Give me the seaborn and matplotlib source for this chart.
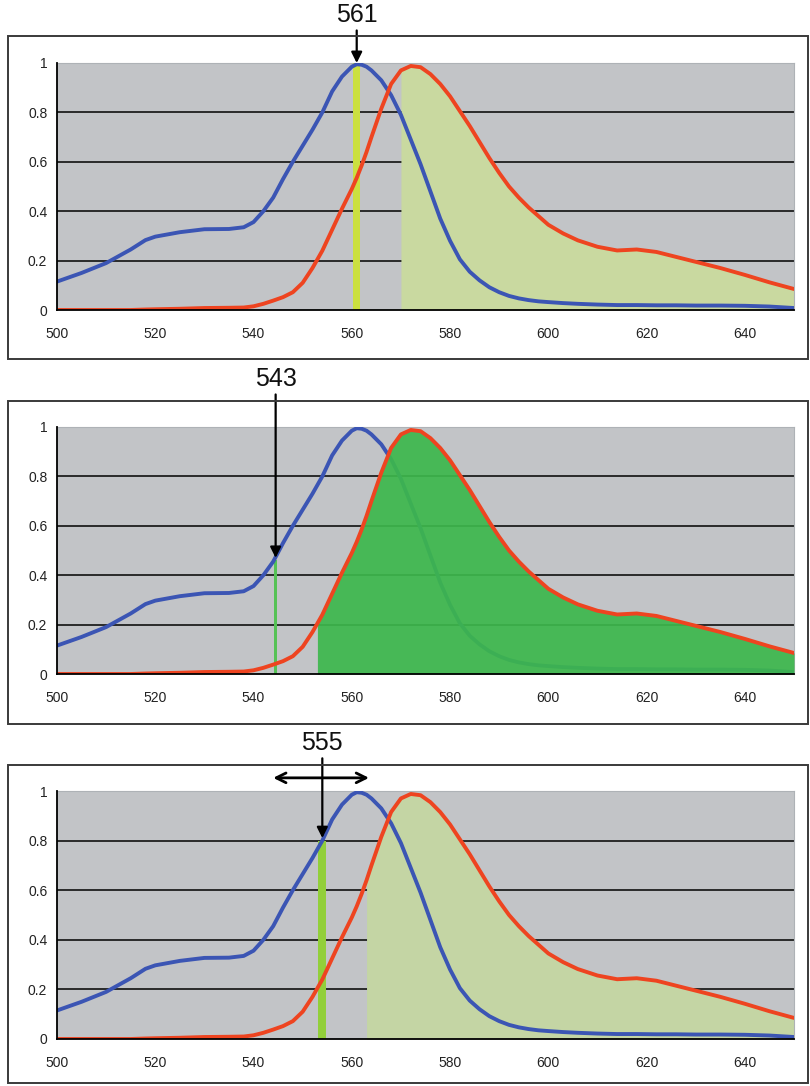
import numpy as np
import matplotlib
matplotlib.use("Agg")
import matplotlib.pyplot as plt
from matplotlib.patches import Rectangle
import seaborn as sns

# spectra (wavelength in nm, normalised)
wavelength = [500, 505, 510, 515, 518, 520, 525, 530, 535, 538, 540, 542, 544, 546, 548,
              550, 552, 553, 554, 556, 558, 560, 561, 562, 563, 564, 566, 568, 570, 572,
              574, 576, 578, 580, 582, 584, 586, 588, 590, 592, 594, 596, 598, 600, 603,
              606, 610, 614, 618, 622, 626, 630, 635, 640, 645, 650]
blue_curve = [0.115, 0.15, 0.19, 0.245, 0.283, 0.297, 0.315, 0.327, 0.328, 0.335, 0.356, 0.40,
              0.455, 0.53, 0.60, 0.665, 0.73, 0.765, 0.80, 0.885, 0.945, 0.985, 0.995, 0.993, 0.985,
              0.97, 0.93, 0.87, 0.79, 0.69, 0.59, 0.48, 0.37, 0.28, 0.205, 0.155, 0.12, 0.092,
              0.072, 0.057, 0.047, 0.04, 0.035, 0.032, 0.028, 0.025, 0.022, 0.02, 0.02, 0.019,
              0.019, 0.018, 0.018, 0.017, 0.014, 0.008]
red_curve = [0.0, 0.0, 0.0, 0.0, 0.002, 0.003, 0.005, 0.008, 0.009, 0.01, 0.015, 0.025, 0.038,
             0.052, 0.072, 0.11, 0.17, 0.205, 0.24, 0.325, 0.41, 0.49, 0.535, 0.585, 0.64, 0.70,
             0.815, 0.915, 0.97, 0.988, 0.983, 0.955, 0.915, 0.865, 0.805, 0.745, 0.68, 0.615,
             0.555, 0.50, 0.455, 0.415, 0.38, 0.345, 0.31, 0.282, 0.256, 0.241, 0.245, 0.235,
             0.215, 0.195, 0.17, 0.142, 0.112, 0.085]

# per panel markers
marker_labels = ["561", "543", "555"]
marker_pos = [561, 544.5, 554]
marker_tip = [1.0, 0.47, 0.81]
bar_height = [1.0, 0.46, 0.80]
bar_width = [1.4, 0.6, 1.6]
bar_colors = ["#cbe03f", "#55c255", "#92cf3a"]
fill_start = [570, 553, 563]
fill_colors = ["#c9d9a0", "#3db84c", "#c4d5a4"]
fill_alpha = [1.0, 0.92, 1.0]
range_arrow = [None, None, (544, 563.5)]

xticks = [500, 520, 540, 560, 580, 600, 620, 640]
yticks = [0, 0.2, 0.4, 0.6, 0.8, 1.0]
ytick_labels = ["0", "0.2", "0.4", "0.6", "0.8", "1"]

sns.set_style("white")
plt.rcParams["font.family"] = ["Liberation Sans", "DejaVu Sans"]

W, H = 810, 1086
fig = plt.figure(figsize=(W / 100, H / 100), dpi=100)

# pixel layout: (axes top, axes bottom, box top, box bottom)
layout = [(63, 310, 36, 359), (427, 674, 401, 724), (791, 1039, 765, 1083)]
ax_left, ax_right = 57, 794

wl = np.array(wavelength)
red = np.array(red_curve)

for i, (top, bottom, btop, bbot) in enumerate(layout):
    fig.add_artist(Rectangle((8 / W, 1 - bbot / H), 800 / W, (bbot - btop) / H,
                             transform=fig.transFigure, fill=False, ec="#3a3a3a", lw=1.4))
    ax = fig.add_axes([ax_left / W, 1 - bottom / H, (ax_right - ax_left) / W, (bottom - top) / H])
    ax.set_facecolor("#c2c4c7")

    for y in yticks[1:-1]:
        ax.axhline(y, color="#1e1e1e", lw=1.3, zorder=1)

    mask = wl >= fill_start[i]
    fill_z = 4 if i == 1 else 2
    ax.fill_between(wl[mask], 0, red[mask], color=fill_colors[i], alpha=fill_alpha[i],
                    lw=0, zorder=fill_z)

    ax.bar([marker_pos[i]], [bar_height[i]], width=bar_width[i], color=bar_colors[i],
           lw=0, zorder=3)

    sns.lineplot(x=wavelength, y=blue_curve, ax=ax, color="#3b55b4", lw=2.8, zorder=3.5)
    sns.lineplot(x=wavelength, y=red_curve, ax=ax, color="#ee4420", lw=2.8, zorder=5)

    ax.annotate(marker_labels[i], xy=(marker_pos[i], marker_tip[i]),
                xytext=(marker_pos[i], 1.145), textcoords="data",
                ha="center", va="bottom", fontsize=18, color="#111111",
                arrowprops=dict(arrowstyle="-|>", color="black", lw=1.6,
                                mutation_scale=16, shrinkA=0, shrinkB=0),
                annotation_clip=False, zorder=6)
    if range_arrow[i] is not None:
        ax.annotate("", xy=(range_arrow[i][1], 1.053), xytext=(range_arrow[i][0], 1.053),
                    arrowprops=dict(arrowstyle="<->, head_length=0.7, head_width=0.35",
                                    color="black", lw=2.0, shrinkA=0, shrinkB=0),
                    annotation_clip=False)

    ax.set_xlim(500, 650)
    ax.set_ylim(0, 1)
    ax.set_xticks(xticks)
    ax.set_yticks(yticks)
    ax.set_yticklabels(ytick_labels)
    ax.set_xlabel("")
    ax.set_ylabel("")
    ax.tick_params(axis="both", direction="out", length=4, width=1.2, color="black",
                   labelsize=10, labelcolor="#222222")
    ax.tick_params(axis="x", pad=8)
    ax.tick_params(axis="y", pad=3)
    for side in ["left", "bottom"]:
        ax.spines[side].set_color("black")
        ax.spines[side].set_linewidth(1.3)
        ax.spines[side].set_zorder(6)
    for side in ["top", "right"]:
        ax.spines[side].set_color("#aeb2b6")
        ax.spines[side].set_linewidth(0.8)

fig.savefig("out.png", dpi=100)
